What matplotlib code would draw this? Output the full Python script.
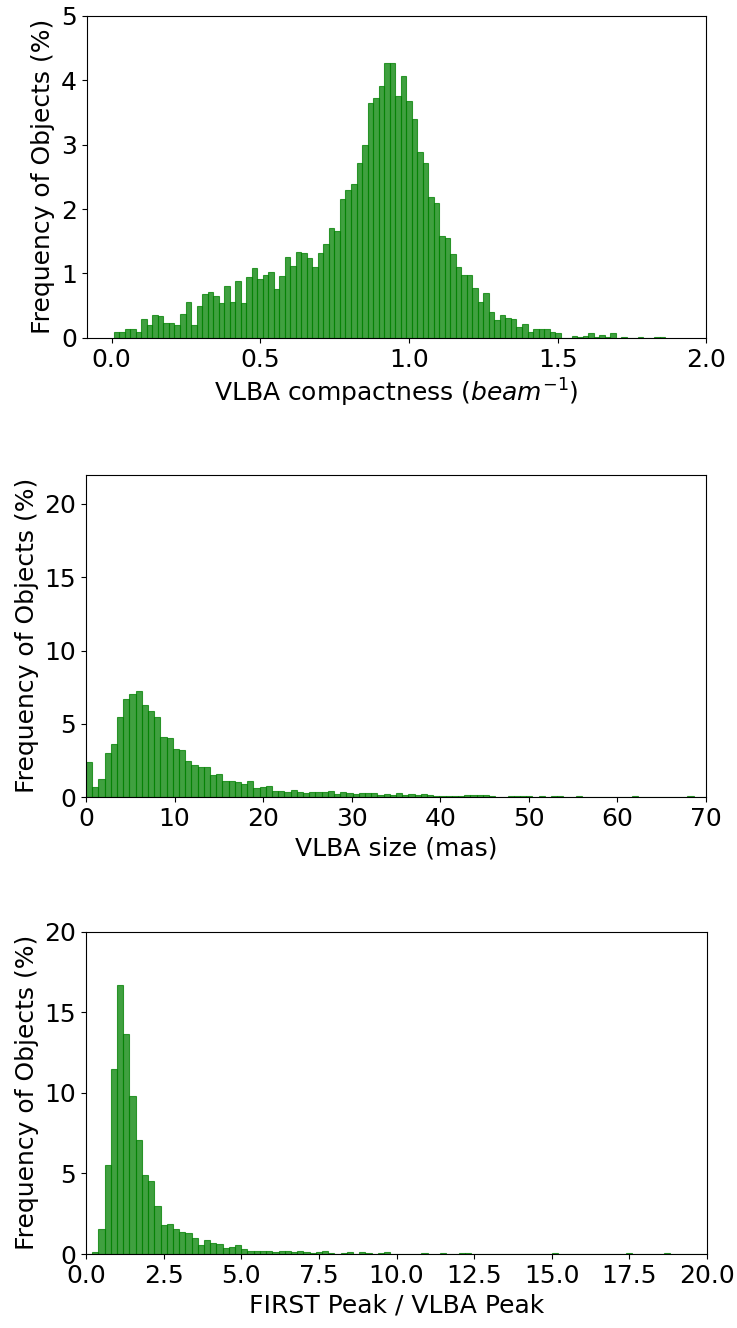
import matplotlib
matplotlib.use("Agg")
import matplotlib.pyplot as plt
import numpy as np

# percent of objects per bin
compactness = [0.088, 0.10, 0.134, 0.134, 0.10, 0.29, 0.196, 0.35, 0.336, 0.227,
               0.227, 0.196, 0.367, 0.553, 0.196, 0.49, 0.677, 0.708, 0.646, 0.537,
               0.80, 0.553, 0.879, 0.537, 0.94, 1.08, 0.91, 0.97, 1.02, 0.755,
               0.956, 1.25, 1.11, 1.34, 1.31, 1.235, 1.096, 1.31, 1.45, 1.70,
               1.654, 2.15, 2.30, 2.38, 2.71, 2.99, 3.65, 3.72, 3.90, 4.26,
               4.27, 3.76, 4.06, 3.67, 3.39, 2.89, 2.71, 2.18, 2.09, 1.58,
               1.545, 1.30, 1.096, 0.97, 0.97, 0.77, 0.553, 0.69, 0.40, 0.274,
               0.35, 0.305, 0.29, 0.165, 0.21, 0.088, 0.134, 0.134, 0.134, 0.088,
               0.072, 0.0, 0.0, 0.026, 0.01, 0.026, 0.072, 0.01, 0.041, 0.01,
               0.072, 0.0, 0.01, 0.0, 0.0, 0.01, 0.0, 0.0, 0.01, 0.01]
comp_min, comp_max = 0.0077, 1.862

size = [2.41, 0.70, 1.25, 3.02, 3.64, 5.48, 6.70, 7.05, 7.25, 6.30,
        5.89, 5.48, 4.11, 4.05, 3.30, 3.23, 2.48, 2.20, 2.07, 2.07,
        1.52, 1.59, 1.11, 1.11, 1.05, 0.91, 1.11, 0.64, 0.70, 0.77,
        0.43, 0.43, 0.36, 0.50, 0.36, 0.30, 0.36, 0.36, 0.36, 0.43,
        0.23, 0.36, 0.30, 0.23, 0.30, 0.30, 0.30, 0.16, 0.23, 0.16,
        0.30, 0.16, 0.23, 0.16, 0.23, 0.16, 0.09, 0.09, 0.09, 0.09,
        0.09, 0.16, 0.16, 0.16, 0.16, 0.09, 0.0, 0.0, 0.09, 0.09,
        0.09, 0.09, 0.0, 0.09, 0.0, 0.09, 0.09, 0.0, 0.0, 0.09,
        0.0, 0.0, 0.0, 0.0, 0.0, 0.0, 0.0, 0.0, 0.09, 0.0,
        0.0, 0.0, 0.0, 0.0, 0.0, 0.0, 0.0, 0.09, 0.0, 0.0]
size_min, size_max = 0.0, 70.0

ratio = [0.0, 0.145, 1.57, 5.54, 11.49, 16.69, 13.66, 9.81, 7.09, 4.92,
         4.55, 3.00, 1.82, 1.88, 1.57, 1.38, 1.32, 1.01, 0.58, 0.89,
         0.70, 0.64, 0.39, 0.45, 0.58, 0.33, 0.21, 0.21, 0.21, 0.21,
         0.145, 0.21, 0.21, 0.15, 0.21, 0.15, 0.08, 0.15, 0.21, 0.08,
         0.03, 0.08, 0.15, 0.03, 0.15, 0.08, 0.03, 0.08, 0.15, 0.03,
         0.03, 0.03, 0.03, 0.03, 0.08, 0.03, 0.0, 0.08, 0.03, 0.03,
         0.08, 0.08, 0.0, 0.0, 0.03, 0.03, 0.03, 0.03, 0.03, 0.03,
         0.03, 0.0, 0.03, 0.03, 0.03, 0.08, 0.0, 0.0, 0.03, 0.03,
         0.03, 0.0, 0.03, 0.03, 0.0, 0.0, 0.0, 0.08, 0.03, 0.0,
         0.03, 0.03, 0.03, 0.08, 0.03, 0.0, 0.0, 0.03, 0.03, 0.03]
ratio_min, ratio_max = 0.0, 20.0

plt.rcParams['font.size'] = 18

def drawHist(ax, heights, lo, hi):
    edges = np.linspace(lo, hi, len(heights) + 1)
    centers = 0.5 * (edges[:-1] + edges[1:])
    ax.hist(centers, bins=edges, weights=heights, color="green", alpha=0.75,
            edgecolor="green", linewidth=0.8)
    ax.set_ylabel("Frequency of Objects (%)")

fig = plt.figure(figsize=(7.37, 13.28), dpi=100)
ax1 = fig.add_axes([0.1174, 0.7455, 0.8412, 0.2428])
ax2 = fig.add_axes([0.1167, 0.3998, 0.8412, 0.2428])
ax3 = fig.add_axes([0.1167, 0.0557, 0.8426, 0.2428])

drawHist(ax1, compactness, comp_min, comp_max)
ax1.set_xlim(-0.084, 2.0)
ax1.set_ylim(0, 5)
ax1.set_xticks([0.0, 0.5, 1.0, 1.5, 2.0])
ax1.set_xlabel(r"VLBA compactness ($beam^{-1}$)")

drawHist(ax2, size, size_min, size_max)
ax2.set_xlim(0, 70)
ax2.set_ylim(0, 22)
ax2.set_yticks([0, 5, 10, 15, 20])
ax2.set_xlabel("VLBA size (mas)")

drawHist(ax3, ratio, ratio_min, ratio_max)
ax3.set_xlim(0, 20)
ax3.set_ylim(0, 20)
ax3.set_yticks([0, 5, 10, 15, 20])
ax3.set_xticks(np.arange(0, 20.1, 2.5))
ax3.set_xlabel("FIRST Peak / VLBA Peak")

fig.savefig("out.png", dpi=100)
